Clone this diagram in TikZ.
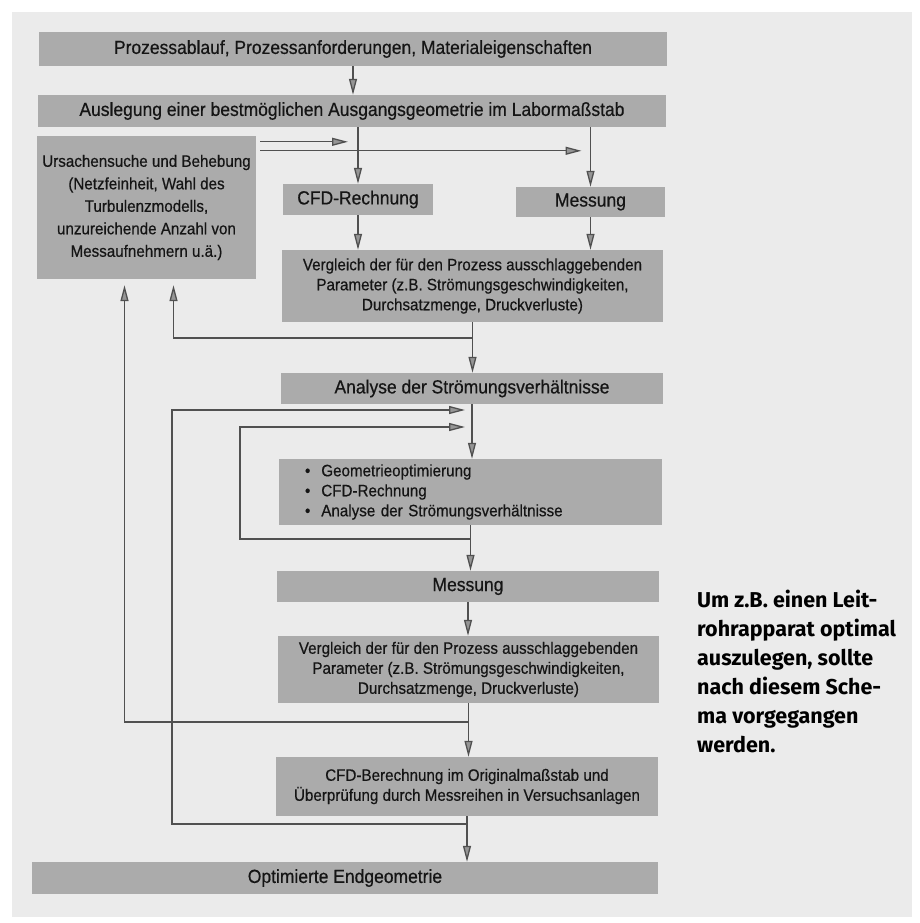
\documentclass[tikz,border=0pt]{standalone}
\usepackage{fontspec}
\setmainfont{Liberation Sans}[FakeStretch=0.92,FakeBold=0.5]
\newfontfamily\capfont{Fira Sans}
\usetikzlibrary{arrows.meta,calc}
\definecolor{bgc}{HTML}{EBEBEB}
\definecolor{boxc}{HTML}{ABABAB}
\definecolor{linec}{HTML}{505050}
\definecolor{txtc}{HTML}{151515}
\definecolor{tipc}{HTML}{959595}
\begin{document}
\begin{tikzpicture}[x=1pt,y=-1pt,
  box/.style={fill=boxc, draw=none, inner sep=0pt, text=txtc, align=center},
  big/.style={font=\fontsize{19}{22}\selectfont},
  small/.style={font=\fontsize{16.5}{20}\selectfont},
  conn/.style={draw=linec, line width=1.3pt},
  arr/.style={conn, -{Triangle[length=16pt,width=8pt,fill=tipc]}}]
\useasboundingbox (0,0) rectangle (919,923);
\fill[bgc] (12,12) rectangle (912,917);

\node[box,big,minimum width=628pt,minimum height=34pt] (top) at (353,49) {Prozessablauf, Prozessanforderungen, Materialeigenschaften};
\node[box,big,minimum width=628pt,minimum height=32pt] (ausl) at (352,111) {Auslegung einer bestmöglichen Ausgangsgeometrie im Labormaßstab};
\node[box,font=\fontsize{16.5}{22.5}\selectfont,minimum width=219pt,minimum height=143pt] (urs) at (146.5,207.5) {Ursachensuche und Behebung\\(Netzfeinheit, Wahl des\\Turbulenzmodells,\\unzureichende Anzahl von\\Messaufnehmern u.ä.)};
\node[box,big,minimum width=150pt,minimum height=31pt] (cfd) at (358,199.5) {CFD-Rechnung};
\node[box,big,minimum width=149pt,minimum height=30pt] (mess1) at (590.5,202) {Messung};
\node[box,small,minimum width=381pt,minimum height=72pt] (vgl1) at (472.5,286) {Vergleich der für den Prozess ausschlaggebenden\\Parameter (z.B. Strömungsgeschwindigkeiten,\\Durchsatzmenge, Druckverluste)};
\node[box,big,minimum width=382pt,minimum height=31pt] (ana) at (472,388.5) {Analyse der Strömungsverhältnisse};
\node[box,small,align=left,text width=331pt,inner xsep=26pt,minimum width=383pt,minimum height=66pt] (geo) at (470.5,492) {\textbullet\ \ Geometrieoptimierung\\\textbullet\ \ CFD-Rechnung\\\textbullet\ \ Analyse der Strömungsverhältnisse};
\node[box,big,minimum width=382pt,minimum height=31pt] (mess2) at (468,586.5) {Messung};
\node[box,small,minimum width=381pt,minimum height=67pt] (vgl2) at (468.5,669.5) {Vergleich der für den Prozess ausschlaggebenden\\Parameter (z.B. Strömungsgeschwindigkeiten,\\Durchsatzmenge, Druckverluste)};
\node[box,small,minimum width=382pt,minimum height=59pt] (cfdb) at (467,786.5) {CFD-Berechnung im Originalmaßstab und\\Überprüfung durch Messreihen in Versuchsanlagen};
\node[box,big,minimum width=626pt,minimum height=32pt] (opt) at (345,878) {Optimierte Endgeometrie};

\node[anchor=base west,align=left,text=black,inner sep=0pt,font=\capfont\bfseries\fontsize{21.5}{29}\selectfont] (cap) at (697,752) {Um z.B. einen Leit-\\rohrapparat optimal\\auszulegen, sollte\\nach diesem Sche-\\ma vorgegangen\\werden.};

% main flow
\draw[arr] (top.south) -- (top.south |- ausl.north);
\draw[arr] (cfd.north |- ausl.south) -- (cfd.north);
\draw[arr] (mess1.north |- ausl.south) -- (mess1.north);
\draw[arr] (cfd.south) -- (cfd.south |- vgl1.north);
\draw[arr] (mess1.south) -- (mess1.south |- vgl1.north);
\draw[arr] (vgl1.south) -- (vgl1.south |- ana.north);
\draw[arr] (ana.south) -- (ana.south |- geo.north);
\draw[arr] (geo.south) -- (geo.south |- mess2.north);
\draw[arr] (mess2.south) -- (mess2.south |- vgl2.north);
\draw[arr] (vgl2.south) -- (vgl2.south |- cfdb.north);
\draw[arr] (cfdb.south) -- (cfdb.south |- opt.north);

% from Ursachensuche back to computation and measurement
\draw[arr] ($(urs.north east)+(4,6)$) -- ($(cfd.north |- urs.north)+(-10,6)$);
\draw[arr] ($(urs.north east)+(4,15)$) -- ($(mess1.north |- urs.north)+(-9,15)$);

% feedback loops
\draw[arr] (vgl1.south |- 0,338) -| ($(urs.south)+(27,6)$);
\draw[arr] (vgl2.south |- 0,722) -| ($(urs.south)+(-22,6)$);
\draw[arr] (cfdb.south |- 0,824) -- (172,824) -- (172,410) -- ($(ana.south |- 0,410)+(-7,0)$);
\draw[arr] (geo.south |- 0,539) -- (240,539) -- (240,427) -- ($(ana.south |- 0,427)+(-7,0)$);
\end{tikzpicture}
\end{document}
